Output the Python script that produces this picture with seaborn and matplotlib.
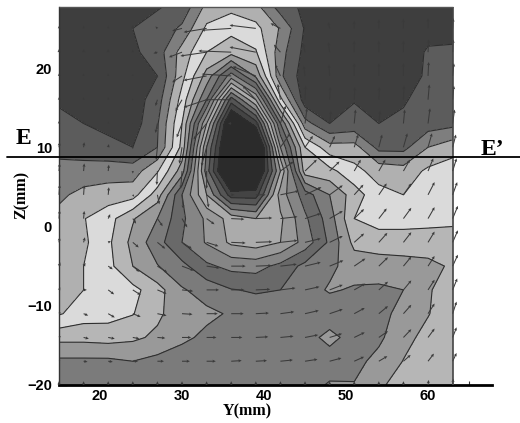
import numpy as np
import matplotlib
matplotlib.use("Agg")
import matplotlib.pyplot as plt
import seaborn as sns

# Measurement grid
y_mm = [15, 18, 21, 24, 27, 30, 33, 36, 39, 42, 45, 48, 51, 54, 57, 60, 63]
z_mm = [28, 25, 22, 19, 16, 13, 10, 7, 4, 1, -2, -5, -8, -11, -14, -17, -20]

# Field, one row per z_mm
field = [
    [0.3, 0.3, 0.4, 0.8, 0.9, 1.2, 3.2, 3.6, 3.2, 1.4, 0.8, 0.6, 0.5, 0.5, 0.5, 0.5, 0.6],
    [0.3, 0.3, 0.4, 1.0, 1.3, 2.2, 4.2, 4.7, 4.3, 2.9, 0.9, 0.5, 0.4, 0.4, 0.4, 0.7, 0.8],
    [0.3, 0.3, 0.4, 0.8, 1.5, 3.4, 5.0, 5.6, 5.1, 2.4, 0.7, 0.4, 0.3, 0.4, 0.5, 1.1, 1.1],
    [0.3, 0.3, 0.4, 0.6, 1.0, 3.7, 6.4, 9.5, 6.8, 2.2, 0.4, 0.3, 0.4, 0.4, 0.7, 1.1, 1.3],
    [0.9, 0.7, 0.5, 0.5, 1.5, 4.4, 8.0, 14.5, 11.0, 4.3, 0.4, 0.3, 0.95, 0.4, 0.9, 1.4, 1.6],
    [1.2, 1.0, 0.7, 0.5, 1.9, 5.0, 11.0, 18.0, 15.5, 8.0, 2.4, 1.0, 1.3, 1.0, 1.2, 1.5, 1.7],
    [1.6, 1.5, 1.3, 1.0, 2.0, 5.3, 13.0, 18.5, 19.0, 10.0, 5.0, 3.4, 3.4, 1.7, 1.7, 3.0, 3.6],
    [2.4, 2.4, 2.5, 2.5, 3.9, 6.5, 13.5, 19.0, 18.0, 12.0, 5.5, 5.3, 4.3, 3.6, 3.4, 4.2, 4.5],
    [2.8, 3.3, 3.5, 3.6, 5.5, 9.0, 12.0, 15.5, 15.5, 10.5, 8.5, 7.0, 5.5, 4.3, 4.0, 4.5, 4.8],
    [3.3, 3.95, 4.6, 5.9, 7.0, 8.8, 10.2, 11.4, 12.0, 11.2, 9.2, 7.5, 5.0, 4.5, 4.5, 4.6, 4.7],
    [3.4, 3.8, 4.8, 6.3, 7.6, 9.0, 10.1, 11.2, 11.5, 11.0, 9.6, 7.8, 5.7, 5.6, 5.6, 5.6, 5.6],
    [3.5, 4.0, 4.7, 6.0, 6.95, 7.7, 8.8, 9.3, 9.4, 8.7, 7.7, 7.2, 6.6, 6.4, 6.3, 6.2, 5.9],
    [3.6, 4.0, 4.3, 4.7, 5.6, 6.9, 7.4, 7.95, 8.1, 8.0, 7.4, 6.9, 7.1, 7.2, 7.0, 6.1, 5.5],
    [3.9, 4.5, 4.6, 4.95, 5.8, 6.6, 6.8, 7.1, 7.5, 7.6, 7.6, 7.6, 7.5, 7.3, 6.7, 6.05, 5.4],
    [5.7, 5.7, 5.6, 5.8, 6.2, 6.8, 7.2, 7.4, 7.5, 7.5, 7.4, 6.7, 7.4, 7.2, 6.3, 5.7, 5.3],
    [7.2, 7.2, 7.2, 7.0, 7.3, 7.5, 7.5, 7.5, 7.5, 7.5, 7.5, 7.5, 7.3, 6.7, 5.97, 5.4, 5.1],
    [7.4, 7.4, 7.4, 7.4, 7.5, 7.5, 7.5, 7.5, 7.5, 7.5, 7.4, 6.9, 6.95, 6.2, 5.5, 5.2, 5.1],
]

# Velocity components in the Y-Z plane
u_vel = [
    [0, 0, 0, 0, 0, 0, 0, 0, 0, 0, 0, 0, 0, 0, 0, 0, 0],
    [0, 0, 0, 0, -.3, -1.5, -3.5, -4.5, -4, -1.5, -.4, -.2, 0, 0, 0, 0, .1],
    [0, 0, 0, 0, -.6, -2, -4, -5, -4, -1, -.3, -.2, 0, 0, 0, .1, .1],
    [0, 0, 0, 0, -.3, -1.5, -3.5, -4.5, -3.5, -.8, -.2, -.1, 0, 0, 0, .1, .2],
    [0, 0, 0, -.1, -.3, -1, -3.5, -4, -2, -.4, .1, .1, .1, .1, .1, .2, .2],
    [0, 0, 0, -.1, -.3, -.8, -2, -.5, .5, .8, .3, .2, .2, .2, .2, .3, .3],
    [.1, .1, .1, 0, -.2, -.4, -.8, 0, 0, 1.5, 1.2, .8, .6, .5, .6, .6, .5],
    [.1, .1, .1, 0, -.1, -.2, 0, 0, 0, 2, 1.8, 1.5, 1, 1, 1, .8, .6],
    [.1, .1, .1, .2, .3, .2, .3, .5, 1.5, 2.8, 2.5, 2, 1.4, 1.2, 1.2, 1, .7],
    [.1, .1, .3, .5, .8, .8, 1.2, 2, 2.5, 2.6, 2.4, 2, 1.5, 1.2, 1.2, 1, .8],
    [.1, .2, .4, .9, 1.2, 1.5, 1.8, 2.2, 2.5, 2.6, 2.4, 2, 1.5, 1.3, 1.2, 1, .8],
    [.2, .3, .7, 1, 1.5, 1.8, 2, 2.2, 2.4, 2.5, 2.4, 2.1, 1.7, 1.4, 1.2, 1, .8],
    [.2, .5, .9, 1.2, 1.4, 1.7, 1.9, 2, 2.2, 2.3, 2.2, 2, 1.7, 1.4, 1.2, 1, .7],
    [.3, .7, 1, 1.2, 1.4, 1.6, 1.7, 1.9, 2, 2.1, 2.1, 2, 1.6, 1.4, 1.2, 1, .6],
    [.3, .8, 1, 1, 1.2, 1.4, 1.5, 1.7, 1.9, 2, 2, 1.9, 1.6, 1.4, 1.2, 1, .6],
    [.2, .6, .7, .8, 1, 1.2, 1.4, 1.6, 1.7, 1.9, 1.9, 1.8, 1.5, 1.3, 1.1, .9, .6],
    [0, 0, 0, 0, 0, 0, 0, 0, 0, 0, 0, 0, 0, 0, 0, .1, .1],
]
v_vel = [
    [0, 0, 0, 0, 0, 0, 0, 0, 0, 0, 0, 0, 0, 0, 0, 0, 0],
    [.4, .4, .4, .5, .3, -.4, -.6, -.3, .5, .8, .8, 1, 1.2, 1.4, 1.5, 1.6, 1.6],
    [.5, .5, .5, .4, -.2, -.8, -.6, .2, .8, 1.2, 1.4, 1.6, 1.8, 1.8, 1.8, 2, 2],
    [.4, .4, .4, .3, -.4, -1, -.7, .3, 1.5, 1.8, 1.6, 1.8, 2, 2, 2, 2.2, 2],
    [.4, .4, .4, .2, -1, -1.8, -1.2, 0, 2.2, 2.5, 2.2, 2, 2, 2, 2.2, 2.4, 2.2],
    [.4, .4, .3, 0, -1.5, -2.2, -2.5, 0, 0, 2.8, 2.4, 2, 2.2, 2, 2.2, 2.4, 2.2],
    [.8, .8, .5, -.3, -2, -2.6, -3, 0, 0, 2.2, 1.8, 1.8, 2, 2, 2.2, 2.2, 2],
    [1.2, 1.2, 1, -.4, -2.2, -2.8, -2.8, 0, 0, 1.5, 1.8, 1.5, 1.8, 1.8, 1.8, 2, 2],
    [1.6, 1.5, 1.2, -.3, -1.5, -2.2, -2, 0, 0, .6, 1.2, 1.5, 1.6, 1.8, 1.8, 2, 2],
    [1.3, 1.2, .7, -.8, -1.2, -1.4, -.9, -.1, .1, .3, .8, 1.2, 1.5, 1.6, 1.7, 1.8, 2],
    [.8, .8, .2, -.8, -1, -1, -.6, -.1, .1, .3, .6, 1, 1.4, 1.5, 1.6, 1.7, 1.9],
    [.6, .5, -.5, -.9, -1, -.7, -.3, 0, .1, .3, .6, .9, 1.2, 1.4, 1.5, 1.6, 1.8],
    [.4, 0, -.7, -.8, -.6, -.2, 0, 0, .1, .3, .5, .8, 1, 1.3, 1.5, 1.6, 1.8],
    [.2, -.3, -.6, -.5, -.3, -.1, 0, 0, .1, .3, .5, .7, .9, 1.2, 1.4, 1.6, 1.9],
    [.2, -.2, -.2, -.2, -.1, 0, 0, 0, .1, .2, .4, .6, .8, 1, 1.3, 1.4, 1.6],
    [.1, -.1, -.1, 0, 0, 0, 0, .1, .1, .2, .3, .5, .7, .8, 1, 1.2, 1.3],
    [.6, .6, .6, .6, .6, .6, .6, .6, .6, .6, .6, .6, .6, .6, .6, .8, 1],
]

levels = [-1, 1, 2, 3, 4, 5, 6, 7, 8, 9, 10, 11, 12, 13, 14, 15, 16, 30]
band_colors = ["#3e3e3e", "#5c5c5c", "#7e7e7e", "#b0b0b0", "#dadada", "#b6b6b6",
               "#999999", "#7b7b7b", "#696969", "#858585", "#999999", "#ababab",
               "#8f8f8f", "#6e6e6e", "#555555", "#444444", "#2b2b2b"]

x_ticks = [20, 30, 40, 50, 60]
z_ticks = [-20, -10, 0, 10, 20]
section_z = 8.8

sns.set_theme(style="ticks")
plt.rcParams["font.family"] = ["Liberation Serif", "DejaVu Serif"]

Y, Z = np.meshgrid(y_mm, z_mm)

fig = plt.figure(figsize=(5.2, 4.23), dpi=100)
ax = fig.add_axes([59 / 520, 38 / 423, 433 / 520, 378 / 423])

ax.contourf(Y, Z, np.array(field), levels=levels, colors=band_colors)
ax.contour(Y, Z, np.array(field), levels=levels[1:-1], colors="#2e2e2e", linewidths=0.8)
ax.quiver(Y, Z, np.array(u_vel), np.array(v_vel), angles="xy", scale_units="xy", scale=1.25,
          color="#3a3a3a", width=0.0024, headwidth=3, headlength=3.2, headaxislength=2.8,
          minlength=0, zorder=3, clip_on=False)

ax.set_xlim(15, 67.8)
ax.set_ylim(-20, 27.7)

# frame of the measured area
ax.vlines(y_mm[-1], -20, 27.7, color="#444444", lw=1.2, zorder=4)
ax.hlines(27.7, y_mm[0], y_mm[-1], color="#555555", lw=1, zorder=4, clip_on=False)

sns.despine(ax=ax, top=True, right=True)
ax.spines["left"].set_linewidth(1.0)
ax.spines["left"].set_color("#333333")
ax.spines["bottom"].set_linewidth(2.0)
ax.spines["bottom"].set_color("black")

ax.set_xticks(x_ticks)
ax.set_yticks(z_ticks)
ax.set_xticks(np.arange(15, 67, 2.5), minor=True)
ax.set_yticks(np.arange(-20, 27, 2.5), minor=True)
ax.tick_params(axis="both", which="major", direction="in", length=6, width=1.0, color="#222222",
               labelsize=10.5, pad=5, labelcolor="black")
ax.tick_params(axis="x", which="major", pad=3)
ax.tick_params(axis="both", which="minor", direction="in", length=3, width=0.8, color="#333333")
for lab in ax.get_xticklabels() + ax.get_yticklabels():
    lab.set_fontfamily(["Liberation Sans", "DejaVu Sans"])
    lab.set_fontweight("bold")

ax.set_xlabel("Y(mm)", fontsize=11.5, fontweight="bold", labelpad=0, color="black", x=0.434)
ax.set_ylabel("Z(mm)", fontsize=11.5, fontweight="bold", labelpad=-2, color="black", y=0.503)

# section line E-E' runs across the whole figure
trans = ax.get_yaxis_transform()
ax.plot([-52 / 433, 461 / 433], [section_z, section_z], transform=trans, color="black",
        lw=1.3, clip_on=False, zorder=5)
ax.text(-36 / 433, section_z + 1.0, "E", transform=trans, fontsize=17, fontweight="bold",
        ha="center", va="bottom", color="black")
ax.text(433 / 433, section_z - 0.4, "E’", transform=trans, fontsize=17, fontweight="bold",
        ha="center", va="bottom", color="black")

fig.savefig("out.png", dpi=100)
